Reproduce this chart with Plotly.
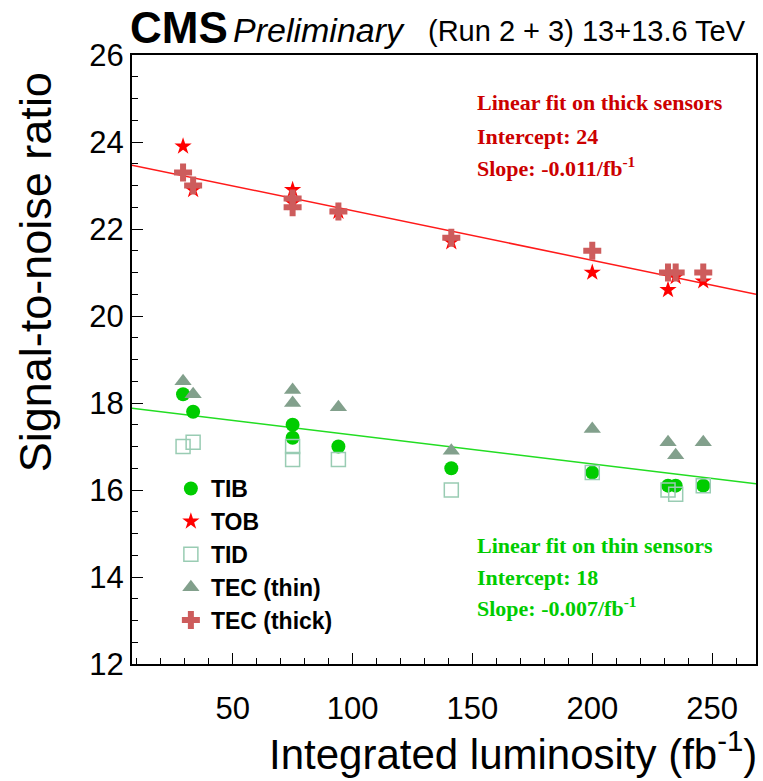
import plotly.graph_objects as go

# ---- data ----
lumi = [29.3, 33.5, 75.0, 75.0, 94.1, 141.2, 200.0, 231.6, 234.8, 246.3]
tib = [18.2, 17.8, 17.5, 17.2, 17.0, 16.5, 16.4, 16.1, 16.1, 16.1]
tob = [23.9, 22.9, 22.9, 22.6, 22.4, 21.7, 21.0, 20.6, 20.9, 20.8]
tid = [17.0, 17.1, 17.0, 16.7, 16.7, 16.0, 16.4, 16.0, 15.9, 16.1]
tec_thin = [18.5, 18.2, 18.3, 18.0, 17.9, 16.9, 17.4, 17.1, 16.8, 17.1]
tec_thick = [23.3, 23.0, 22.7, 22.5, 22.4, 21.8, 21.5, 21.0, 21.0, 21.0]

fit_thick = {"intercept": 23.56, "slope": -0.0114}
fit_thin = {"intercept": 17.93, "slope": -0.00665}

x_range = [8.0, 268.3]
y_range = [12, 26]
x_ticks = [50, 100, 150, 200, 250]
y_ticks = [12, 14, 16, 18, 20, 22, 24, 26]

fig = go.Figure()

# fit lines
for fit, col in [(fit_thick, "#ff1a1a"), (fit_thin, "#22dd22")]:
    fig.add_trace(go.Scatter(
        x=x_range,
        y=[fit["intercept"] + fit["slope"] * v for v in x_range],
        mode="lines", line=dict(color=col, width=1.5),
        showlegend=False, hoverinfo="skip"))

series = [
    ("TIB", tib, dict(symbol="circle", size=14, color="#00cc00")),
    ("TOB", tob, dict(symbol="star", size=13, color="#ff0000")),
    ("TID", tid, dict(symbol="square-open", size=14, color="#99ccb3",
                       line=dict(width=1.5, color="#99ccb3"))),
    ("TEC (thin)", tec_thin, dict(symbol="triangle-up", size=15, color="#82a08c")),
    ("TEC (thick)", tec_thick, dict(symbol="cross", size=15, color="#cd5c5c")),
]
for name, vals, mk in series:
    fig.add_trace(go.Scatter(x=lumi, y=vals, mode="markers", name=name, marker=mk))

axis_common = dict(
    showline=True, linecolor="black", linewidth=2, mirror=True,
    ticks="inside", ticklen=11, tickwidth=1.3, tickcolor="black",
    showgrid=False, zeroline=False,
    tickfont=dict(family="Liberation Sans", size=31, color="black"),
)
fig.update_xaxes(range=x_range, tickvals=x_ticks,
                 minor=dict(ticks="inside", ticklen=6, dtick=10, tick0=0,
                            tickcolor="black", showgrid=False),
                 ticklabelstandoff=16, **axis_common)
fig.update_yaxes(range=y_range, tickvals=y_ticks,
                 minor=dict(ticks="inside", ticklen=6, dtick=0.5, tick0=0,
                            tickcolor="black", showgrid=False),
                 ticklabelstandoff=0, **axis_common)

W, H = 763, 781
L, R, T, B = 132, 5, 55, 117
pw, ph = W - L - R, H - T - B

def px(x):
    return (x - L) / pw

def py(y):
    return (H - B - y) / ph

ann = []
ann.append(dict(text="Integrated luminosity (fb<sup>-1</sup>)", x=px(761), y=py(780),
                xanchor="right", yanchor="bottom",
                font=dict(family="Liberation Sans", size=42, color="black")))
ann.append(dict(text="Signal-to-noise ratio", x=px(35), y=py(272), textangle=-90,
                xanchor="center", yanchor="middle",
                font=dict(family="Liberation Sans", size=45, color="black")))
ann.append(dict(text="<b>CMS</b>", x=px(128), y=py(28), xanchor="left", yanchor="middle",
                font=dict(family="Liberation Sans", size=44, color="black")))
ann.append(dict(text="<i>Preliminary</i>", x=px(231), y=py(30), xanchor="left", yanchor="middle",
                font=dict(family="Liberation Sans", size=34, color="black")))
ann.append(dict(text="(Run 2 + 3) 13+13.6 TeV", x=px(427), y=py(31), xanchor="left",
                yanchor="middle",
                font=dict(family="Liberation Sans", size=29, color="black")))

red_lines = ["Linear fit on thick sensors", "Intercept: 24", "Slope: -0.011/fb<sup>-1</sup>"]
red_y = [102, 137, 167]
for t, yy in zip(red_lines, red_y):
    ann.append(dict(text="<b>" + t + "</b>", x=px(476), y=py(yy), xanchor="left", yanchor="middle",
                    font=dict(family="Liberation Serif", size=22, color="#cc0000")))
green_lines = ["Linear fit on thin sensors", "Intercept: 18", "Slope: -0.007/fb<sup>-1</sup>"]
green_y = [545, 577, 607]
for t, yy in zip(green_lines, green_y):
    ann.append(dict(text="<b>" + t + "</b>", x=px(476), y=py(yy), xanchor="left", yanchor="middle",
                    font=dict(family="Liberation Serif", size=22, color="#00cc00")))

for a in ann:
    a.update(xref="paper", yref="paper", showarrow=False)

fig.update_layout(
    width=W, height=H,
    margin=dict(l=L, r=R, t=T, b=B, pad=0),
    paper_bgcolor="white", plot_bgcolor="white",
    annotations=ann,
    legend=dict(x=px(171), y=py(467), xanchor="left", yanchor="top",
                bgcolor="rgba(0,0,0,0)", tracegroupgap=0,
                font=dict(family="Liberation Sans", size=23, color="black", weight="bold")),
)

fig.write_html("out.html")
